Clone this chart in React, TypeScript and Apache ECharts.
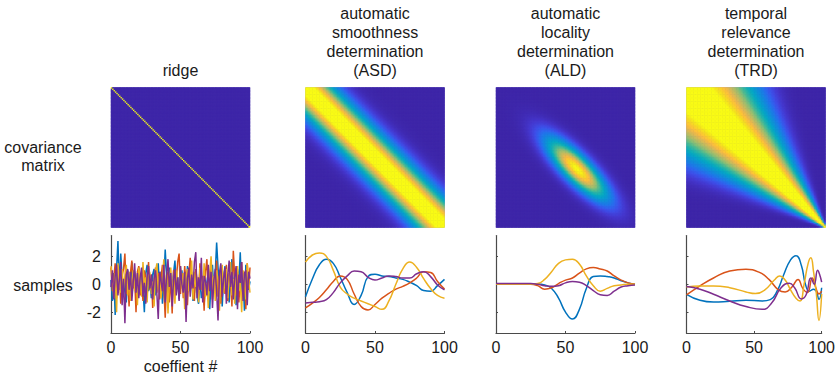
import { useEffect, useRef } from "react";
import * as echarts from "echarts";

// ---------- layout-independent content ----------
const N = 100;
const coefficientTicks = [0, 50, 100];
const sampleTicks = [-2, 0, 2];
const panelTitles = [
  ["ridge"],
  ["automatic", "smoothness", "determination", "(ASD)"],
  ["automatic", "locality", "determination", "(ALD)"],
  ["temporal", "relevance", "determination", "(TRD)"],
];
const rowLabels = [["covariance", "matrix"], ["samples"]];
const xAxisTitle = "coeffient #";
const sampleColors = ["#0072bd", "#d95319", "#edb120", "#7e2f8e"];
// parula colour map, evenly spaced stops (0, 0.05, ... 1)
const parula = [
  "#3e26a8", "#4537cd", "#3f4ee8", "#2f66ef", "#1e7ae8", "#1488de", "#0d95d4",
  "#06a1cc", "#07abbf", "#18b2b1", "#32b8a1", "#50bc90", "#7abf7c", "#9bbf6f",
  "#b8bd63", "#d3bb58", "#ecb94c", "#fec13a", "#fad12b", "#f5e41d", "#f9fb15",
];
// upper colour limit of each covariance image
const colorMax = [1, 0.9, 1, 0.9];

// prior hyper-parameters (covariance kernels)
const ASD_LENGTH = 13;
const ALD_CENTER = 58;
const ALD_SPREAD = 13.5;
const ALD_SMOOTH = 8.5;
const TRD_OFFSET = 1;
const TRD_SCALE = 0.41;

// ---------- samples ----------
const ridgeBlue = [0.3, -1.2, 0.8, -2.2, 1.1, 3.1, -0.4, 2.2, 0.5, -0.9, 0.2, -1.3, 1.0, 0.4, -0.6, 1.6, -0.2, 0.9, -1.1, 0.3, 1.2, -0.7, 0.6, -0.3, -2.0, 0.8, 1.4, -0.5, 0.2, -1.0, 0.7, 1.1, -0.8, 0.4, 1.5, -0.6, 0.9, -1.4, 0.1, 2.5, 0.6, -0.9, 1.2, 0.3, -0.4, 0.8, 1.7, -0.2, 0.5, -1.1, 0.4, 1.0, -0.3, 0.7, -0.8, 1.3, 0.2, -0.5, 0.9, -1.2, -0.6, 0.6, -0.9, -1.4, 0.3, -1.0, -0.4, -1.5, 0.5, -0.7, 1.1, -1.8, 0.2, 1.4, -0.6, 0.8, 3.0, 1.2, -0.3, 0.9, -1.6, 0.4, 1.3, -0.5, 0.7, -1.3, 0.6, 1.8, -0.2, 0.5, -1.5, 1.0, 0.1, 2.3, -0.8, 0.3, -1.9, 1.4, 0.6, -0.4, 0.2];
const ridgeOrange = [1.2, -0.5, 0.4, 1.5, -1.0, 0.2, 0.9, -1.4, 0.6, 1.1, 2.2, -0.7, 0.3, -1.6, 0.8, 1.7, -0.3, 0.5, -2.0, 0.9, 1.3, -0.8, 0.1, -1.2, 1.0, 0.4, -0.9, 1.6, -0.4, 0.7, -1.7, 0.2, 1.2, -0.6, 0.8, -1.1, 0.5, 1.4, -0.2, -2.4, 0.3, 0.9, -1.3, 0.6, -2.1, 1.0, -0.5, 0.4, 1.6, 2.2, -0.7, 0.8, -1.0, 1.3, 0.1, -1.5, 0.7, 1.9, -0.3, 0.5, -1.2, 1.1, 0.2, -0.8, 1.5, -0.4, 0.6, -1.9, 0.9, 1.8, -0.6, 0.3, 1.2, -1.1, 0.4, -0.2, 1.7, -0.9, 0.6, -1.4, 1.0, 0.3, -0.7, 1.4, -1.2, 0.8, 0.2, -1.6, 2.4, 0.5, -0.8, 1.1, -1.3, 0.4, 1.6, -0.9, 0.7, -1.8, 1.5, -0.3, 1.2];
const ridgeYellow = [1.3, 0.5, -1.0, 0.8, -2.0, 1.5, 0.2, -0.6, 1.1, -0.3, 0.6, 1.4, -0.8, 0.9, -1.2, 0.3, 1.0, -0.5, 0.7, -1.5, 1.2, 0.4, -0.9, 1.6, -0.2, 0.5, -1.3, 1.1, 0.8, -0.7, 0.2, -1.6, 0.9, 1.5, -0.4, 0.6, -1.0, 0.3, 1.8, -0.6, 0.7, -2.1, 0.4, 1.2, -0.8, 0.5, -1.4, 1.0, 0.2, -0.9, 1.3, -0.3, 0.8, -1.8, 0.6, 1.1, -0.5, 0.3, 1.7, -1.1, 0.9, -0.2, 0.5, -1.3, 1.2, 0.4, -0.7, 1.5, -0.9, 0.1, -1.7, 0.8, 2.0, -0.4, 0.6, -1.2, 1.0, 0.3, -1.9, 0.7, 1.4, -0.6, 0.2, 1.1, -1.0, 0.5, 1.6, -0.8, 0.4, -1.4, 0.9, 1.3, -0.5, 0.2, -2.0, 1.0, 0.6, -1.1, 1.5, 0.3, -0.6];
const ridgePurple = [-0.2, 1.0, -1.1, 0.6, 1.4, -0.8, 0.3, 1.6, -1.5, 0.4, -2.8, 0.7, 1.1, -0.4, 0.9, -1.2, 0.2, 1.5, -0.6, 0.8, -1.0, 0.5, 1.2, -0.9, 0.1, -1.4, 0.6, 1.3, -0.3, 0.7, -1.1, 0.4, 1.0, -0.7, -2.5, 0.9, 0.2, -0.5, 1.4, -1.3, 0.6, 1.8, -0.2, 0.8, -1.6, 0.3, 1.1, -0.8, 0.5, -1.2, 1.3, 0.0, -0.6, 0.9, -2.7, 0.4, 1.2, -0.9, 0.7, -0.3, 1.6, 2.3, -1.0, 0.5, -0.4, 1.9, -1.3, 0.6, 0.2, -0.8, 1.4, -0.5, 0.9, -1.7, 0.3, 1.1, -0.6, -2.6, 0.8, 1.5, -0.9, 0.4, 1.2, -1.4, 0.6, 1.7, -0.2, 0.9, -1.1, 0.5, 1.3, -1.8, 0.7, 0.1, 1.6, -1.2, 0.8, 1.0, -1.5, 0.9, 0.4];

const smoothX = [0, 5, 10, 15, 20, 25, 30, 35, 40, 45, 50, 55, 60, 65, 70, 75, 80, 85, 90, 95, 100];
const asdBlue = [-0.9, 0.4, 1.4, 1.8, 1.5, 0.5, -0.6, -1.45, -0.8, 0.55, 0.72, 0.6, 0.55, 0.45, 0.35, 0.15, -0.1, -0.45, -0.5, -0.1, 0.35];
const asdOrange = [-1.7, -1.35, -0.95, -0.4, 0.2, 0.6, 0.35, -0.7, -1.6, -1.85, -1.45, -1.0, -0.65, -0.35, -0.15, 0.1, 0.45, 0.9, 0.85, 0.2, -0.35];
const asdYellow = [1.6, 2.1, 2.25, 2.0, 1.0, -0.2, -0.7, -1.0, -1.2, -1.4, -1.6, -1.8, -1.2, 0.0, 1.1, 1.6, 1.2, 0.4, -0.3, -0.8, -1.0];
const asdPurple = [-1.35, -1.3, -1.25, -1.1, -0.6, 0.1, 0.6, 0.95, 0.9, 0.5, 0.3, 0.45, 0.6, 0.55, 0.45, 0.45, 0.75, 0.9, 0.55, -0.05, -0.4];

const aldBlue = [0.02, 0.02, 0.02, 0.02, 0.02, 0.02, 0.02, -0.05, -0.3, -1.0, -2.0, -2.5, -1.8, -0.3, 0.55, 0.6, 0.55, 0.45, 0.25, 0.1, 0.0];
const aldOrange = [0.0, 0.0, 0.0, 0.0, 0.0, 0.0, -0.1, -0.35, -0.25, 0.05, 0.3, 0.45, 0.8, 1.1, 1.2, 1.1, 0.95, 0.6, 0.3, 0.1, 0.0];
const aldYellow = [0.0, 0.0, 0.0, 0.0, 0.0, 0.0, 0.05, 0.35, 0.9, 1.5, 1.75, 1.8, 1.45, 0.6, -0.1, -0.5, -0.3, -0.1, -0.05, 0.0, 0.0];
const aldPurple = [0.05, 0.05, 0.05, 0.05, 0.05, 0.05, 0.0, -0.1, -0.15, -0.1, 0.1, 0.2, 0.15, -0.1, -0.45, -0.75, -0.8, -0.5, -0.2, -0.1, -0.05];

const trdBlueX = [0, 10, 20, 32, 44, 56, 62, 67, 72, 77, 81, 85, 88, 91, 94, 96, 98, 100];
const trdBlueY = [-0.72, -1.15, -1.28, -1.22, -1.15, -1.2, -1.1, -0.5, 0.7, 1.75, 2.05, 1.35, 0.0, -0.5, -0.35, -0.5, -1.1, -0.25];
const trdOrangeX = [0, 10, 20, 32, 44, 54, 61, 68, 73, 78, 82.5, 86, 89.5, 93, 95.5, 98, 100];
const trdOrangeY = [-0.77, -0.12, 0.45, 0.95, 1.08, 0.85, 0.35, -0.4, -0.55, -0.2, 0.35, -0.3, -0.6, 0.45, -0.2, -0.7, -0.5];
const trdYellowX = [0, 10, 20, 32, 44, 51, 58, 65, 69, 73, 77, 81, 84, 87, 90, 92, 94, 96, 98, 100];
const trdYellowY = [-0.2, -0.12, -0.12, -0.25, -0.55, -0.67, -0.4, 0.3, 0.6, 0.3, -0.4, -1.0, -1.2, 0.0, 1.5, 1.9, 0.9, -0.6, -2.6, -0.7];
const trdPurpleX = [0, 10, 20, 32, 44, 56, 63, 70, 76, 80, 85, 88.5, 92, 94.5, 97, 98.5, 100];
const trdPurpleY = [-0.17, -0.36, -0.72, -1.2, -1.6, -1.8, -1.35, -0.25, 0.07, -0.25, -1.05, -0.75, 0.45, 0.0, 1.0, 0.7, 0.15];

// ---------- helpers ----------
const zip = (xs: number[], ys: number[]) => ys.map((y, k) => [xs[k], y]);
const idx = Array.from({ length: N }, (_, k) => k);

function covariance(kind: number): number[][] {
  const out: number[][] = [];
  for (let i = 0; i < N; i++) {
    for (let j = 0; j < N; j++) {
      let v = 0;
      if (kind === 0) v = i === j ? 1 : 0;
      else if (kind === 1) v = Math.exp(-((i - j) ** 2) / (2 * ASD_LENGTH ** 2));
      else if (kind === 2) {
        const s = (i + j) / 2 - ALD_CENTER;
        v = Math.exp(-(s * s) / (2 * ALD_SPREAD ** 2)) * Math.exp(-((i - j) ** 2) / (2 * ALD_SMOOTH ** 2));
      } else {
        const ui = Math.log(N - i + TRD_OFFSET);
        const uj = Math.log(N - j + TRD_OFFSET);
        v = Math.exp(-((ui - uj) ** 2) / (2 * TRD_SCALE ** 2));
      }
      out.push([j, i, v]);
    }
  }
  return out;
}

const samplesByPanel: number[][][][] = [
  [ridgeBlue, ridgeOrange, ridgeYellow, ridgePurple].map((ys) => zip(idx.concat([N]), ys)),
  [asdBlue, asdOrange, asdYellow, asdPurple].map((ys) => zip(smoothX, ys)),
  [aldBlue, aldOrange, aldYellow, aldPurple].map((ys) => zip(smoothX, ys)),
  [zip(trdBlueX, trdBlueY), zip(trdOrangeX, trdOrangeY), zip(trdYellowX, trdYellowY), zip(trdPurpleX, trdPurpleY)],
];

// ---------- layout ----------
const FONT = '"Liberation Sans", Arial, Helvetica, sans-serif';
const panelLeft = [111, 305.5, 496, 686.5];
const panelWidth = 139;
const heatTop = 87.5;
const heatHeight = 140;
const lineTop = 235.5;
const lineHeight = 97.5;
const axisColor = "#4a4a4a";
const textColor = "#1a1a1a";

export default function App() {
  const ref = useRef<HTMLDivElement>(null);
  useEffect(() => {
    const chart = echarts.init(ref.current!, undefined, { renderer: "svg" });
    const grid: any[] = [];
    const xAxis: any[] = [];
    const yAxis: any[] = [];
    const series: any[] = [];
    const visualMap: any[] = [];
    for (let p = 0; p < 4; p++) {
      grid.push({
        left: panelLeft[p], top: heatTop, width: panelWidth, height: heatHeight,
        show: true, backgroundColor: parula[0], borderWidth: 0,
      });
      xAxis.push({ gridIndex: p, type: "category", data: idx, show: false });
      yAxis.push({ gridIndex: p, type: "category", data: idx, show: false, inverse: true });
      series.push({
        type: "heatmap",
        xAxisIndex: p,
        yAxisIndex: p,
        data: covariance(p),
        progressive: 0,
        silent: true,
        itemStyle: { borderWidth: 0 },
        emphasis: { disabled: true },
      });
      visualMap.push({
        type: "continuous",
        show: false,
        seriesIndex: p,
        dimension: 2,
        min: 0,
        max: colorMax[p],
        inRange: { color: parula },
        outOfRange: { color: parula[parula.length - 1] },
      });
    }
    for (let p = 0; p < 4; p++) {
      grid.push({ left: panelLeft[p], top: lineTop, width: panelWidth, height: lineHeight });
      xAxis.push({
        gridIndex: 4 + p,
        type: "value",
        min: 0,
        max: 100,
        interval: 50,
        name: p === 0 ? xAxisTitle : "",
        nameLocation: "middle",
        nameGap: 25,
        nameTextStyle: { fontFamily: FONT, fontSize: 16, color: textColor },
        axisLine: { show: true, onZero: false, lineStyle: { color: axisColor, width: 1.2 } },
        axisTick: { show: true, inside: true, length: 2, lineStyle: { color: axisColor } },
        axisLabel: {
          fontFamily: FONT,
          fontSize: 16,
          color: textColor,
          margin: 6,
          customValues: coefficientTicks,
        },
        splitLine: { show: false },
      });
      yAxis.push({
        gridIndex: 4 + p,
        type: "value",
        min: -3.5,
        max: 3.5,
        axisLine: { show: true, onZero: false, lineStyle: { color: axisColor, width: 1.2 } },
        axisTick: { show: true, inside: true, length: 2, customValues: sampleTicks, lineStyle: { color: axisColor } },
        axisLabel: {
          show: p === 0,
          fontFamily: FONT,
          fontSize: 16,
          color: textColor,
          margin: 10,
          customValues: sampleTicks,
        },
        splitLine: { show: false },
      });
      samplesByPanel[p].forEach((pts, k) => {
        series.push({
          type: "line",
          xAxisIndex: 4 + p,
          yAxisIndex: 4 + p,
          data: pts,
          showSymbol: false,
          smooth: p === 0 ? false : 0.5,
          silent: true,
          lineStyle: { color: sampleColors[k], width: 1.5 },
          itemStyle: { color: sampleColors[k] },
          z: 2 + k,
        });
      });
    }
    const elements: any[] = [];
    panelTitles.forEach((lines, p) => {
      const cx = panelLeft[p] + panelWidth / 2;
      lines.forEach((t, k) => {
        const y = 70 - (lines.length - 1 - k) * 19;
        elements.push({
          type: "text",
          x: cx,
          y,
          style: { text: t, fontFamily: FONT, fontSize: 16, fill: textColor, textAlign: "center", textVerticalAlign: "middle" },
        });
      });
    });
    const rowY = [[147, 165], [285]];
    rowLabels.forEach((lines, r) => {
      lines.forEach((t, k) => {
        elements.push({
          type: "text",
          x: 43,
          y: rowY[r][k],
          style: { text: t, fontFamily: FONT, fontSize: 16, fill: textColor, textAlign: "center", textVerticalAlign: "middle" },
        });
      });
    });
    chart.setOption({
      animation: false,
      backgroundColor: "#ffffff",
      grid,
      xAxis,
      yAxis,
      visualMap,
      series,
      graphic: { elements },
    });
    return () => chart.dispose();
  }, []);
  return (
    <div
      ref={ref}
      style={{ position: "fixed", left: 0, top: 0, width: 838, height: 379, background: "#fff" }}
    />
  );
}
